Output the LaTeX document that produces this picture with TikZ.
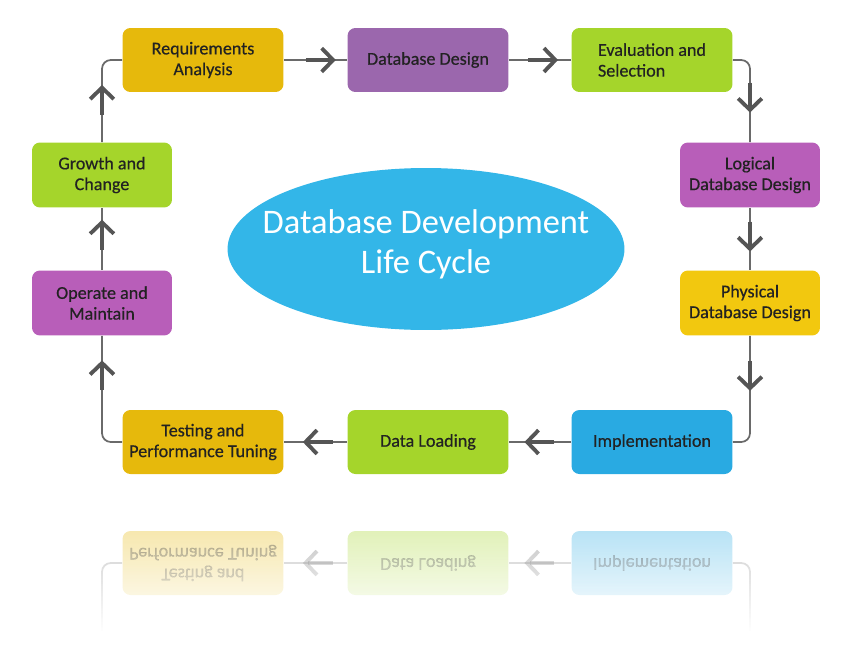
\documentclass[tikz,border=0pt]{standalone}
\usepackage{fontspec}
\setmainfont{Carlito}
\newfontfamily\stagefont{Carlito}[FakeBold=0.5]
\usetikzlibrary{arrows.meta,decorations.markings,shapes.geometric,fadings}

\definecolor{stageyellow}{HTML}{E6B90C}
\definecolor{brightyellow}{HTML}{F2C80F}
\definecolor{stagepurple}{HTML}{9B67AD}
\definecolor{stagemagenta}{HTML}{B85EB9}
\definecolor{stagegreen}{HTML}{A5D52B}
\definecolor{stageblue}{HTML}{29AAE2}
\definecolor{ellblue}{HTML}{33B6E8}
\definecolor{textdark}{HTML}{222222}
\definecolor{linegray}{HTML}{6A6A6A}
\definecolor{arrowgray}{HTML}{555555}

\tikzset{
  stage/.style={fill=#1, rounded corners=4.5pt, minimum width=3.22cm, minimum height=1.28cm,
    align=center, text=textdark, inner sep=2pt, font=\stagefont\fontsize{10.3}{11.8}\selectfont},
  sidestage/.style={stage=#1, minimum width=2.8cm, minimum height=1.3cm},
  flow/.style={draw=linegray, line width=1pt, rounded corners=5pt, postaction={decorate},
    decoration={markings, mark=at position #1 with {
      \draw[arrowgray, line width=2.4pt] (-17pt,0) -- (-3pt,0);
      \arrow[arrowgray]{Straight Barb[length=6.5pt, width=13.5pt, line width=2.2pt]}}}},
}

\begin{document}
\begin{tikzpicture}[x=0.02cm, y=-0.02cm]
    \useasboundingbox (0,0) rectangle (852,663);

    % Centre title
    \node[ellipse, fill=ellblue, minimum width=7.94cm, minimum height=3.24cm, text=white,
      inner xsep=-20pt, inner ysep=0pt, align=center, font=\fontsize{19.6}{22.8}\selectfont]
      (title) at (426,249) {Database Development\\Life Cycle\rule[-9pt]{0pt}{0pt}};

    % Top row
    \node[stage=stageyellow] (req) at (203,60) {Requirements\\Analysis};
    \node[stage=stagepurple] (dd) at (428,60) {Database Design};
    \node[stage=stagegreen, align=left] (eval) at (652,60) {Evaluation and\\ Selection};

    % Right column
    \node[sidestage=stagemagenta] (logical) at (750,175) {Logical\\Database Design};
    \node[sidestage=brightyellow] (physical) at (750,303) {Physical\\Database Design};

    % Bottom row
    \node[stage=stageblue] (impl) at (652,442) {Implementation};
    \node[stage=stagegreen] (dl) at (428,442) {Data Loading};
    \node[stage=stageyellow] (test) at (203,442) {Testing and\\Performance Tuning};

    % Left column
    \node[sidestage=stagemagenta] (operate) at (102,303) {Operate and\\Maintain};
    \node[sidestage=stagegreen] (growth) at (102,175) {Growth and\\Change};

    % Cycle connectors
    \draw[flow=0.82] (req) -- (dd);
    \draw[flow=0.79] (dd) -- (eval);
    \draw[flow=0.69] (eval.east) -| (logical.north);
    \draw[flow=0.7] (logical) -- (physical);
    \draw[flow=0.46] (physical.south) |- (impl.east);
    \draw[flow=0.75] (impl) -- (dl);
    \draw[flow=0.7] (dl) -- (test);
    \draw[flow=0.8] (test.west) -| (operate.south);
    \draw[flow=0.81] (operate) -- (growth);
    \draw[flow=0.58] (growth.north) |- (req.west);

    % Reflection of the bottom row
    \begin{scope}[shift={(0,1005)}, yscale=-1, transform shape, opacity=0.35]
        \node[stage=stageblue] (rimpl) at (652,442) {Implementation};
        \node[stage=stagegreen] (rdl) at (428,442) {Data Loading};
        \node[stage=stageyellow] (rtest) at (203,442) {Testing and\\Performance Tuning};
        \coordinate (rleft) at (102,360);
        \coordinate (rright) at (750,360);
        \draw[flow=0.75] (rimpl) -- (rdl);
        \draw[flow=0.7] (rdl) -- (rtest);
        \draw[draw=linegray, line width=1pt, rounded corners=5pt] (rtest.west) -| (rleft);
        \draw[draw=linegray, line width=1pt, rounded corners=5pt] (rimpl.east) -| (rright);
    \end{scope}
    \fill[white, path fading=north] (0,525) rectangle (852,632);
    \fill[white] (0,631) rectangle (852,663);
\end{tikzpicture}
\end{document}
